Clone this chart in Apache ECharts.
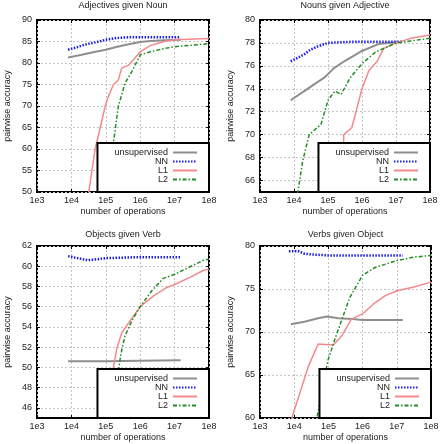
<!DOCTYPE html>
<html>
<head>
<meta charset="utf-8">
<script src="https://cdn.jsdelivr.net/npm/echarts@6/dist/echarts.min.js"></script>
<style>
html,body{margin:0;padding:0;background:#fff;}
#main{width:443px;height:444px;}
</style>
</head>
<body>
<div id="main"></div>
<script>
var titles = ['Adjectives given Noun', 'Nouns given Adjective', 'Objects given Verb', 'Verbs given Object'];
var seriesNames = ['unsupervised', 'NN', 'L1', 'L2'];
var xTicks = [1e3, 1e4, 1e5, 1e6, 1e7, 1e8];
var yRange = [[50, 90], [65, 80], [45, 62], [60, 80]];
var yTicks = [
	[50, 55, 60, 65, 70, 75, 80, 85, 90],
	[66, 68, 70, 72, 74, 76, 78, 80],
	[46, 48, 50, 52, 54, 56, 58, 60, 62],
	[60, 65, 70, 75, 80]
];

// Adjectives given Noun
var adjUnsup = [[8e3,81.3],[2e4,81.9],[5e4,82.6],[1e5,83.1],[2e5,83.7],[5e5,84.4],[1e6,84.9],[2e6,85.1],[5e6,85.3],[1.5e7,85.4]];
var adjNN = [[8e3,83.1],[1.5e4,83.7],[2.5e4,84.3],[5e4,84.8],[1e5,85.4],[2e5,85.8],[5e5,86.0],[1.5e7,86.0]];
var adjL1 = [[2.5e4,46],[3.2e4,50],[4.9e4,60],[6.9e4,65],[9.6e4,70],[1.2e5,72.3],[1.67e5,75],[2.3e5,76],[2.9e5,78.8],[4.6e5,79.5],[6.3e5,80.7],[1e6,82.6],[2e6,84.1],[5e6,85.0],[1e7,85.4],[1e8,85.7]];
var adjL2 = [[1.5e5,45],[1.66e5,61.3],[2.3e5,69.8],[3.6e5,75.3],[5.7e5,78.0],[1e6,81.9],[2e6,82.6],[4e6,83.2],[1e7,83.8],[1e8,84.5]];

// Nouns given Adjective
var nounUnsup = [[8e3,73.0],[2e4,73.8],[5e4,74.6],[8e4,75.0],[1.5e5,75.8],[3e5,76.4],[1e6,77.3],[3e6,77.9],[1.5e7,78.1]];
var nounNN = [[8e3,76.4],[2e4,77.0],[3e4,77.4],[5e4,77.7],[1e5,78.0],[2e5,78.05],[5e5,78.1],[1.5e7,78.1]];
var nounL1 = [[2.7e5,64],[2.9e5,70.0],[5e5,70.6],[1e6,74.0],[1.6e6,75.6],[2.8e6,76.4],[4.3e6,77.5],[1e7,78.0],[2.7e7,78.4],[1e8,78.7]];
var nounL2 = [[1.15e4,64],[1.8e4,67.7],[2.8e4,70.0],[6.2e4,70.9],[1e5,73.0],[1.6e5,73.8],[2.4e5,73.5],[4.6e5,75.0],[1e6,76.2],[2.5e6,77.2],[1e7,78.0],[1e8,78.4]];

// Objects given Verb
var objUnsup = [[8e3,50.6],[1e5,50.6],[1e6,50.65],[1.5e7,50.7]];
var objNN = [[8e3,61.0],[1.5e4,60.8],[3e4,60.6],[6e4,60.7],[1e5,60.8],[1e6,60.9],[1.5e7,60.9]];
var objL1 = [[1.4e5,44],[1.65e5,49.9],[2.1e5,51.9],[2.9e5,53.4],[4.6e5,54.4],[1e6,56.0],[2.5e6,57.1],[6e6,57.9],[1e7,58.2],[2.8e7,58.9],[7e7,59.6],[1e8,59.7]];
var objL2 = [[2e5,44],[2.4e5,49.9],[2.7e5,51.2],[3.6e5,53.1],[5.7e5,54.6],[1e6,56.0],[2.2e6,57.6],[4.7e6,58.8],[1e7,59.2],[3.5e7,60.1],[7e7,60.6],[1e8,60.7]];

// Verbs given Object
var verbUnsup = [[8e3,70.9],[2e4,71.2],[5e4,71.6],[9e4,71.8],[2e5,71.6],[5e5,71.5],[1e6,71.4],[3e6,71.4],[1.5e7,71.4]];
var verbNN = [[7e3,79.4],[1.3e4,79.4],[2e4,79.1],[4e4,79.0],[1e5,78.9],[1.5e7,78.9]];
var verbL1 = [[7e3,58],[8.5e3,60],[2.6e4,66.0],[5e4,68.6],[1.4e5,68.5],[2.4e5,69.5],[4.7e5,71.5],[1e6,72.1],[2e6,73.2],[4.5e6,74.2],[1e7,74.8],[3e7,75.2],[1e8,75.8]];
var verbL2 = [[4e4,58],[4.6e4,60],[6e4,62.3],[9.5e4,66.6],[1.5e5,69.0],[2.4e5,71.3],[4.2e5,74.0],[1e6,76.6],[2.3e6,77.5],[1e7,78.3],[3e7,78.7],[1e8,78.9]];

var panelData = [
	[adjUnsup, adjNN, adjL1, adjL2],
	[nounUnsup, nounNN, nounL1, nounL2],
	[objUnsup, objNN, objL1, objL2],
	[verbUnsup, verbNN, verbL1, verbL2]
];

var boxes = [
	{left:37, top:20, width:172, height:172, titleTop:1.5},
	{left:260, top:20, width:170, height:172, titleTop:1.5},
	{left:37, top:246, width:172, height:172, titleTop:230},
	{left:260, top:246, width:171, height:172, titleTop:230}
];

var lineStyles = [
	{color:'#8f8f8f', width:2, type:'solid'},
	{color:'#1c1cf0', width:2.5, type:[1.5,1.5]},
	{color:'#f28a8c', width:1.5, type:'solid'},
	{color:'#218c21', width:1.5, type:[4,2,1.5,2]}
];

var font = 'Liberation Sans';
var option = {
	animation:false,
	textStyle:{fontFamily:font},
	title:[], grid:[], xAxis:[], yAxis:[], legend:[], series:[]
};

function tickStyle(){
	return {show:true, inside:true, length:3, lineStyle:{color:'#000'}};
}

for(var p = 0; p < 4; p++){
	var b = boxes[p];
	option.title.push({
		text:titles[p], left:b.left + b.width/2, top:b.titleTop, textAlign:'center', padding:0,
		textStyle:{fontSize:9, fontWeight:'normal', color:'#222', fontFamily:font}
	});
	option.grid.push({
		left:b.left, top:b.top, width:b.width, height:b.height,
		show:true, borderColor:'#000', borderWidth:2, backgroundColor:'transparent'
	});
	var ya = {
		type:'value', gridIndex:p, min:yRange[p][0], max:yRange[p][1],
		name:'pairwise accuracy', nameLocation:'middle', nameGap:25,
		nameTextStyle:{fontSize:9, color:'#222', fontFamily:font},
		axisLine:{show:false},
		axisTick:tickStyle(),
		axisLabel:{fontSize:9, color:'#222', margin:5, fontFamily:font},
		splitLine:{show:true, lineStyle:{color:'#c4c4c4', type:[2,2], width:1}}
	};
	if(p == 0 || p == 3){
		ya.interval = 5;
	} else {
		ya.axisTick.customValues = yTicks[p];
		ya.axisLabel.customValues = yTicks[p];
	}
	option.yAxis.push(ya);
	option.xAxis.push({
		type:'log', logBase:10, gridIndex:p, min:xTicks[0], max:xTicks[xTicks.length-1],
		name:'number of operations', nameLocation:'middle', nameGap:15,
		nameTextStyle:{fontSize:9, color:'#222', fontFamily:font},
		axisLine:{show:false},
		axisTick:tickStyle(),
		axisLabel:{fontSize:9, color:'#222', margin:4, fontFamily:font,
			formatter:function(v){ return '1e' + Math.round(Math.log(v)/Math.LN10); }},
		splitLine:{show:true, lineStyle:{color:'#c4c4c4', type:[2,2], width:1}}
	});
	option.legend.push({
		data:seriesNames, orient:'vertical', align:'right',
		right:443 - (b.left + b.width), bottom:444 - (b.top + b.height),
		backgroundColor:'#fff', borderColor:'#000', borderWidth:2, borderRadius:0,
		padding:[5, 11, 8, 17], itemGap:0, itemWidth:24, itemHeight:9,
		itemStyle:{opacity:0},
		textStyle:{fontSize:9, lineHeight:9, color:'#222', fontFamily:font},
		selectedMode:false
	});
	for(var s = 0; s < 4; s++){
		option.series.push({
			name:seriesNames[s], type:'line', xAxisIndex:p, yAxisIndex:p,
			data:panelData[p][s], symbol:'none', clip:true,
			lineStyle:lineStyles[s], itemStyle:{color:lineStyles[s].color}
		});
	}
}

// mirrored ticks on the top and right edges
for(var q = 0; q < 4; q++){
	var my = {
		type:'value', gridIndex:q, position:'right', min:yRange[q][0], max:yRange[q][1],
		axisLine:{show:false}, axisTick:tickStyle(), axisLabel:{show:false}, splitLine:{show:false}
	};
	if(q == 0 || q == 3){
		my.interval = 5;
	} else {
		my.axisTick.customValues = yTicks[q];
		my.axisLabel.customValues = yTicks[q];
	}
	option.yAxis.push(my);
	option.xAxis.push({
		type:'log', logBase:10, gridIndex:q, position:'top', min:xTicks[0], max:xTicks[xTicks.length-1],
		axisLine:{show:false}, axisTick:tickStyle(), axisLabel:{show:false}, splitLine:{show:false}
	});
}

var myChart = echarts.init(document.getElementById('main'));
myChart.setOption(option);
</script>
</body>
</html>
